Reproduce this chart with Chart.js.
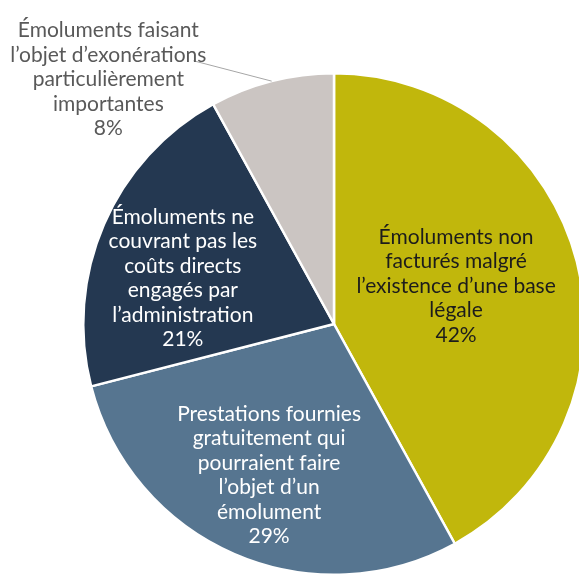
<!DOCTYPE html>
<html>
<head>
<meta charset="utf-8">
<script src="https://cdn.jsdelivr.net/npm/chart.js@4.4.1/dist/chart.umd.min.js"></script>
<style>
  html, body { margin: 0; padding: 0; background: #ffffff; overflow: hidden; width: 579px; height: 576px; }
  canvas { display: block; }
</style>
</head>
<body>
<canvas id="chart" width="600" height="576" style="width:600px;height:576px"></canvas>
<script>
// Slice labels (one entry per line of the wrapped label)
const categories = [
  ["Émoluments non", "facturés malgré", "l’existence d’une base", "légale"],
  ["Prestations fournies", "gratuitement qui", "pourraient faire", "l’objet d’un", "émolument"],
  ["Émoluments ne", "couvrant pas les", "coûts directs", "engagés par", "l’administration"],
  ["Émoluments faisant", "l’objet d’exonérations", "particulièrement", "importantes"]
];
// Share of each category, in percent
const shares = [42, 29, 21, 8];

const sliceColors = ["#c1b70c", "#567590", "#243851", "#cbc5c2"];

// Where each label block sits: fraction of the radius along the slice bisector,
// plus a small angular shift (degrees); the small slice gets an outside label with a leader line.
const labelPlacement = [
  { r: 0.51,  shift: -2.9,  color: "#1c1c1c" },
  { r: 0.657, shift: -0.2,  color: "#ffffff" },
  { r: 0.63,  shift: -6.5,  color: "#ffffff" },
  { r: 1.327, shift: -28.3, color: "#595959", leader: { r: 1.19, shift: -13.7 } }
];

const FONT = "21px Lato";
const LINE_H = 24.5;

const sliceLabels = {
  id: "sliceLabels",
  afterDatasetsDraw(chart) {
    const ctx = chart.ctx;
    const meta = chart.getDatasetMeta(0);
    ctx.save();
    ctx.font = FONT;
    ctx.textAlign = "center";
    ctx.textBaseline = "middle";
    meta.data.forEach((arc, i) => {
      const p = arc.getProps(["x", "y", "startAngle", "endAngle", "outerRadius"], true);
      const place = labelPlacement[i];
      const mid = (p.startAngle + p.endAngle) / 2;
      const a = mid + place.shift * Math.PI / 180;
      const cx = p.x + Math.cos(a) * place.r * p.outerRadius;
      const cy = p.y + Math.sin(a) * place.r * p.outerRadius;
      if (place.leader) {
        const la = mid + place.leader.shift * Math.PI / 180;
        ctx.beginPath();
        ctx.strokeStyle = "#a6a6a6";
        ctx.lineWidth = 1;
        ctx.moveTo(p.x + Math.cos(mid) * p.outerRadius, p.y + Math.sin(mid) * p.outerRadius);
        ctx.lineTo(p.x + Math.cos(la) * place.leader.r * p.outerRadius,
                   p.y + Math.sin(la) * place.leader.r * p.outerRadius);
        ctx.stroke();
      }
      const lines = categories[i].concat([shares[i] + "%"]);
      ctx.fillStyle = place.color;
      const top = cy - (lines.length - 1) * LINE_H / 2;
      lines.forEach((t, k) => ctx.fillText(t, cx, top + k * LINE_H));
    });
    ctx.restore();
  }
};

new Chart(document.getElementById("chart"), {
  type: "pie",
  data: {
    labels: categories.map(l => l.join(" ")),
    datasets: [{
      data: shares,
      backgroundColor: sliceColors,
      borderColor: "#ffffff",
      borderWidth: 2.5
    }]
  },
  options: {
    responsive: false,
    animation: false,
    layout: { padding: { left: 82, right: 14, top: 72, bottom: 0 } },
    plugins: {
      legend: { display: false },
      tooltip: { enabled: false }
    }
  },
  plugins: [sliceLabels]
});
</script>
</body>
</html>
